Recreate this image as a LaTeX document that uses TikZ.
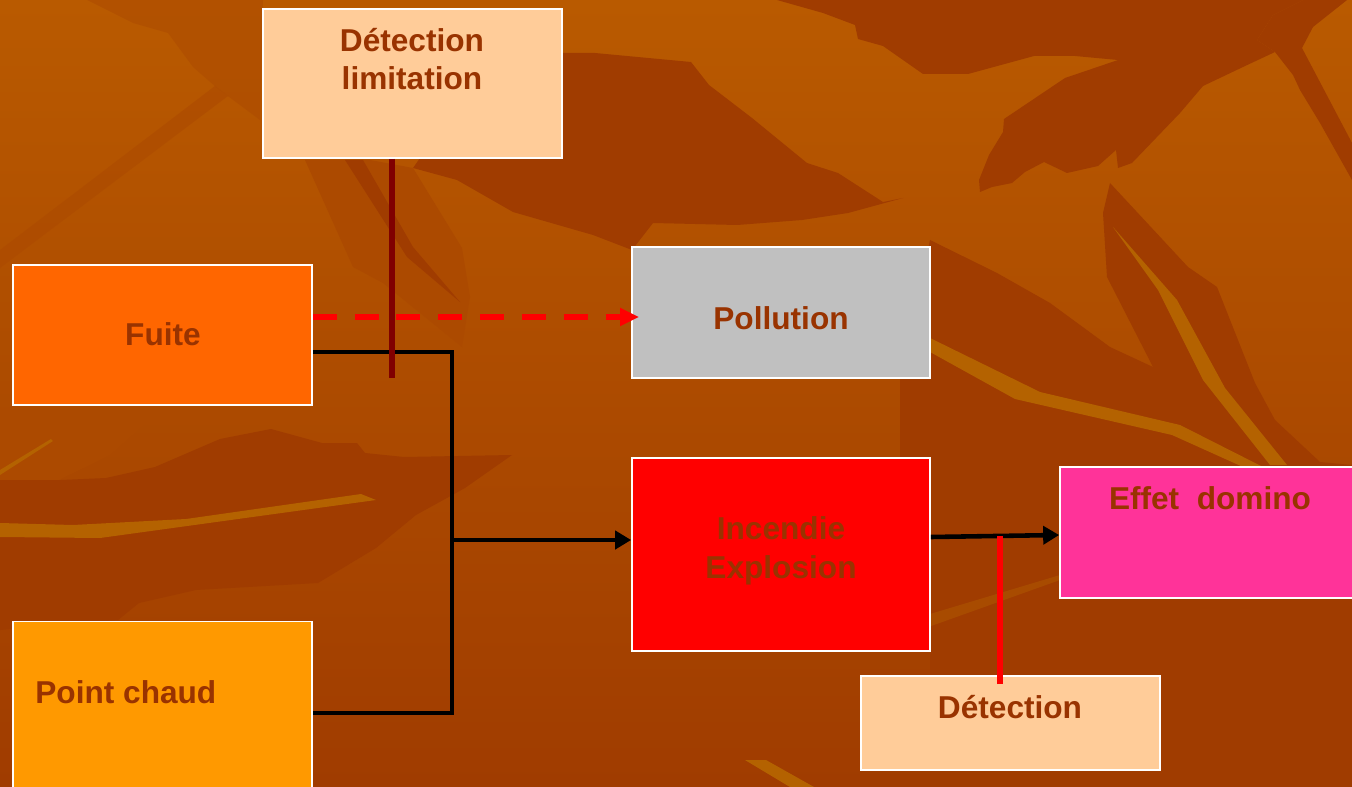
\documentclass[tikz,border=0pt]{standalone}
\usepackage{fontspec}
\setmainfont{Liberation Sans}
\usepackage{tikz}
\usetikzlibrary{arrows.meta}
\definecolor{peach}{HTML}{FFCC99}
\definecolor{fuiteor}{HTML}{FF6600}
\definecolor{chaudor}{HTML}{FF9900}
\definecolor{polgray}{HTML}{C0C0C0}
\definecolor{dominopink}{HTML}{FF3399}
\definecolor{txtbrown}{HTML}{993300}
\definecolor{bgtop}{HTML}{B95A00}
\definecolor{bgbot}{HTML}{A03C00}
\definecolor{leafmid}{HTML}{AC4A00}
\definecolor{leafdark}{HTML}{A03C00}
\definecolor{veinlight}{HTML}{B46200}
\definecolor{limred}{HTML}{800000}

\begin{document}
\begin{tikzpicture}[x=0.02cm, y=-0.02cm,
  box/.style={draw=white, line width=1pt, inner sep=0pt, minimum width=5.98cm},
  lbl/.style={font=\fontsize{18}{21.8}\selectfont\bfseries, text=txtbrown, align=center, inner sep=0pt, anchor=base},
  wire/.style={line width=2.6pt, black},
  arr/.style={wire, -{Triangle[length=0.32cm,width=0.36cm]}},
  dasharr/.style={line width=3pt, red, dash pattern=on 13.6pt off 10.2pt, -{Triangle[length=0.38cm,width=0.34cm]}},
  cut/.style={line width=3.4pt}]

\useasboundingbox (0,0) rectangle (1352,787);
\clip (0,0) rectangle (1352,787);

% background leaves
\shade[top color=bgtop, bottom color=bgbot] (0,0) rectangle (1352,787);
\fill[leafmid,opacity=.5] (87,0) -- (133,23) -- (168,33) -- (193,67) -- (217,88) -- (260,120) -- (263,0) -- cycle;
\fill[leafmid,opacity=.6] (0,250) -- (215,86) -- (228,96) -- (0,268) -- cycle;
\fill[leafdark] (560,53) -- (595,53) -- (691,62) -- (709,85) -- (752,118) -- (807,163) -- (838,173) -- (883,202) -- (903,198) -- (848,213) -- (802,220) -- (737,225) -- (653,223) -- (632,250) -- (593,235) -- (513,212) -- (457,180) -- (413,168) -- (420,158) -- (560,158) -- cycle;
\fill[leafmid] (305,160) -- (370,160) -- (413,168) -- (462,248) -- (470,297) -- (462,347) -- (383,283) -- (353,267) -- cycle;
\fill[leafdark] (345,160) -- (363,160) -- (413,247) -- (460,302) -- (407,257) -- cycle;
\fill[leafdark] (777,0) -- (823,13) -- (855,25) -- (858,39) -- (883,46) -- (923,74) -- (968,74) -- (1034,56) -- (1075,56) -- (1118,60) -- (1065,78) -- (1004,119) -- (1003,132) -- (989,155) -- (979,180) -- (980,192) -- (992,187) -- (1012,183) -- (1025,172) -- (1044,162) -- (1067,173) -- (1098,166) -- (1116,150) -- (1118,168) -- (1132,163) -- (1180,113) -- (1203,86) -- (1243,67) -- (1275,52) -- (1257,40) -- (1273,15) -- (1303,0) -- cycle;
\fill[leafdark] (1303,0) -- (1347,0) -- (1313,27) -- (1302,48) -- (1352,143) -- (1352,180) -- (1320,123) -- (1300,90) -- (1293,75) -- (1275,52) -- (1257,40) -- (1273,15) -- cycle;
\fill[leafdark] (930,240) -- (997,273) -- (1050,303) -- (1110,347) -- (1153,367) -- (1107,277) -- (1103,213) -- (1110,183) -- (1188,267) -- (1217,287) -- (1255,383) -- (1275,420) -- (1320,462) -- (1352,465) -- (1352,787) -- (930,787) -- (930,651) -- (900,458) -- (900,378) -- cycle;
\fill[veinlight] (1113,227) -- (1177,300) -- (1225,388) -- (1287,465) -- (1270,465) -- (1203,380) -- (1158,290) -- cycle;
\fill[veinlight] (930,338) -- (1040,392) -- (1180,425) -- (1263,467) -- (1243,467) -- (1172,435) -- (1015,399) -- (930,352) -- cycle;
\fill[veinlight,opacity=.4] (920,617) -- (1060,575) -- (1060,580) -- (920,630) -- cycle;
\fill[leafmid] (0,410) -- (163,408) -- (110,455) -- (59,480) -- (0,480) -- cycle;
\fill[leafdark] (0,480) -- (61,480) -- (106,478) -- (155,467) -- (220,439) -- (271,429) -- (322,443) -- (357,443) -- (365,453) -- (404,457) -- (512,455) -- (465,488) -- (416,515) -- (376,548) -- (318,583) -- (196,590) -- (139,603) -- (118,620) -- (0,630) -- cycle;
\fill[veinlight] (0,523) -- (73,525) -- (186,519) -- (361,494) -- (376,500) -- (100,538) -- (0,537) -- cycle;
\fill[veinlight] (0,470) -- (51,439) -- (53,441) -- (0,475) -- cycle;
\fill[veinlight] (745,760) -- (766,760) -- (814,787) -- (790,787) -- cycle;

% boxes
\node[box, fill=peach, minimum height=2.98cm] (lim) at (412.5,83.5) {};
\node[box, fill=fuiteor, minimum height=2.8cm] (fuite) at (162.5,335) {};
\node[box, fill=polgray, minimum width=5.96cm, minimum height=2.62cm] (pollution) at (781,312.5) {};
\node[box, fill=red, minimum width=5.96cm, minimum height=3.86cm] (incendie) at (781,554.5) {};
\node[box, fill=dominopink, minimum width=6cm, minimum height=2.62cm] (domino) at (1210,532.5) {};
\node[box, fill=chaudor, minimum height=3.58cm] (chaud) at (162.5,711) {};
\node[box, fill=peach, minimum height=1.88cm] (detect) at (1010.5,723) {};

% labels
\node[lbl] (limtxt) at (412,90) {Détection\\limitation};
\node[lbl] (fuitetxt) at (163,345) {Fuite};
\node[lbl] (pollutiontxt) at (781,329) {Pollution};
\node[lbl] (incendietxt) at (781,578) {Incendie\\Explosion};
\node[lbl] (dominotxt) at (1210,509) {Effet~~domino};
\node[lbl, anchor=base west] (chaudtxt) at (35,703) {Point chaud};
\node[lbl] (detecttxt) at (1010,718) {Détection};

% connectors
\coordinate (j1) at (452,352);
\coordinate (j2) at (452,713);
\coordinate (j3) at (452,540);
\coordinate (limend) at (392,378);
\coordinate (detcut) at (1000,536);
\draw[dasharr] ([yshift=-0.09cm]fuite.east |- pollution.west) -- ([yshift=-0.09cm,xshift=0.16cm]pollution.west);
\draw[wire] (fuite.east |- j1) -- (j1) -- (j2) -- (chaud.east |- j2);
\draw[arr] (j3) -- (incendie.west |- j3);
\draw[arr] ([yshift=0.35cm]incendie.east) -- ([yshift=-0.05cm]domino.west);
\draw[cut, limred] (lim.south -| limend) -- (limend);
\draw[cut, red] ([yshift=-0.18cm]detect.north -| detcut) -- (detcut);
\end{tikzpicture}
\end{document}
